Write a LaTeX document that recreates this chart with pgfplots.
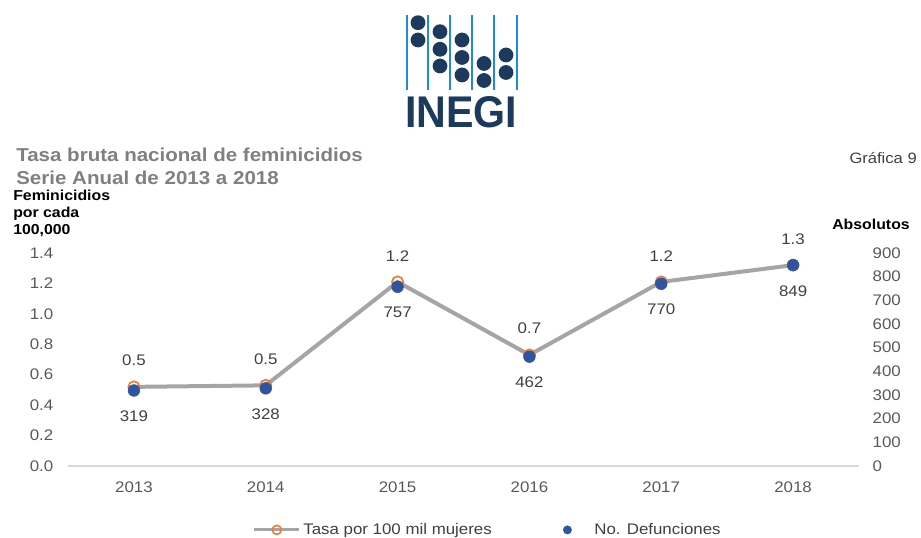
\documentclass[border=0pt]{standalone}
\usepackage{pgfplots}
\pgfplotsset{compat=1.18}
\usepackage{pgfplotstable}
\usepackage{graphicx}
\usepackage{fontspec}
\setmainfont{Liberation Sans}[FakeStretch=1.1]
\newfontfamily\logofont{Liberation Sans}

\definecolor{linegray}{HTML}{A5A5A5}
\definecolor{rateorange}{HTML}{ED7D31}
\definecolor{dotblue}{HTML}{2F55A0}
\definecolor{ticktext}{HTML}{595959}
\definecolor{labeltext}{HTML}{404040}
\definecolor{titlegray}{HTML}{808080}
\definecolor{axisgray}{HTML}{D9D9D9}
\definecolor{logoblue}{HTML}{1E8BD8}
\definecolor{logonavy}{HTML}{1B3A5E}

\pgfplotsset{
  long line legend/.style={
    legend image code/.code={\draw[##1, mark repeat=2, mark phase=2]
      plot coordinates {(0pt,0pt) (16.9pt,0pt) (33.75pt,0pt)};}},
  dot legend/.style={
    legend image code/.code={\path (0pt,-1pt) (26pt,1pt);
      \draw[##1, mark size=3.1pt, mark repeat=2, mark phase=2]
      plot coordinates {(0pt,0pt) (8pt,0pt) (26pt,0pt)};}},
}

% tasa por 100 mil mujeres y numero de defunciones
\pgfplotstableread{
x year rate count
0 2013 0.52 319
1 2014 0.53 328
2 2015 1.21 757
3 2016 0.73 462
4 2017 1.21 770
5 2018 1.32 849
}\datos

\begin{document}
\begin{tikzpicture}[x=0.75pt,y=0.75pt]
\useasboundingbox (0,0) rectangle (921,538);

% logo INEGI
\foreach \lx in {406.7,428.3,450,472.3,494.3,516.7}
  \draw[logoblue, line width=1.4pt] (\lx,523) -- (\lx,448);
\foreach \dx/\dy in {418/22.7, 418/40, 440/31.7, 440/49.3, 440/66,
                     462/40, 462/57.5, 462/75, 484/63.5, 484/80.5, 506/55, 506/72.5}
  \fill[logonavy] (\dx,538-\dy) circle (7.4);
\node[anchor=south west, inner sep=0pt, text=logonavy] at (405,410)
  {\resizebox{84pt}{23.25pt}{\logofont\bfseries INEGI}};

% titulos
\node[anchor=base west, inner sep=0pt, text=titlegray, font=\fontsize{14}{16}\selectfont\bfseries] at (16,376) {Tasa bruta nacional de feminicidios};
\node[anchor=base west, inner sep=0pt, text=titlegray, font=\fontsize{14}{16}\selectfont\bfseries] at (16,353.5) {Serie Anual de 2013 a 2018};
\node[anchor=base east, inner sep=0pt, text=labeltext, font=\fontsize{11.3}{13}\selectfont] at (917,374) {Gráfica 9};
\node[anchor=base west, inner sep=0pt, font=\fontsize{10.8}{12}\selectfont\bfseries] at (13,337.5) {Feminicidios};
\node[anchor=base west, inner sep=0pt, font=\fontsize{10.8}{12}\selectfont\bfseries] at (13,320.5) {por cada};
\node[anchor=base west, inner sep=0pt, font=\fontsize{10.8}{12}\selectfont\bfseries] at (13,303) {100,000};
\node[anchor=base east, inner sep=0pt, font=\fontsize{10.8}{12}\selectfont\bfseries] at (910,308.7) {Absolutos};

\begin{axis}[
  at={(51pt,54pt)}, anchor=south west,
  scale only axis, width=593.25pt, height=159.75pt,
  xmin=-0.5, xmax=5.5, ymin=0, ymax=1.4,
  xtick={0,1,2,3,4,5},
  xticklabels={2013,2014,2015,2016,2017,2018},
  ytick={0,0.2,0.4,0.6,0.8,1.0,1.2,1.4},
  axis x line*=bottom, axis y line*=left,
  x axis line style={draw=axisgray, line width=1.1pt},
  y axis line style={draw=none},
  major tick length=0pt,
  /pgf/number format/assume math mode=true,
  tick label style={font=\fontsize{11.5}{13}\selectfont, text=ticktext},
  xticklabel style={yshift=-8pt},
  yticklabel style={xshift=-7.5pt, /pgf/number format/.cd, fixed, fixed zerofill, precision=1},
  clip=false,
]
\addplot[color=linegray, line width=3pt, mark=o, mark size=4.2pt,
  mark options={draw=rateorange, fill=white, line width=1.3pt},
  nodes near coords,
  every node near coord/.append style={anchor=south, inner sep=0pt, yshift=15pt,
    font=\fontsize{11.5}{13}\selectfont, text=labeltext,
    /pgf/number format/.cd, fixed, fixed zerofill, precision=1, assume math mode=true},
] table[x=x, y=rate] {\datos};
\end{axis}

\begin{axis}[
  at={(51pt,54pt)}, anchor=south west,
  scale only axis, width=593.25pt, height=159.75pt,
  xmin=-0.5, xmax=5.5, ymin=0, ymax=900,
  ytick={0,100,200,300,400,500,600,700,800,900},
  axis x line=none, axis y line*=right,
  y axis line style={draw=none},
  major tick length=0pt,
  /pgf/number format/assume math mode=true,
  tick label style={font=\fontsize{11.5}{13}\selectfont, text=ticktext},
  yticklabel style={xshift=6.7pt},
  clip=false,
  legend columns=2,
  legend style={at={(0.531,-0.3)}, anchor=center, draw=none, fill=none,
    font=\fontsize{11.5}{13}\selectfont, text=labeltext,
    /tikz/every even column/.append style={column sep=46.5pt}},
]
\addlegendimage{long line legend, color=linegray, line width=2.2pt, mark=o, mark size=3.4pt,
  mark options={draw=rateorange, fill=white, line width=1.2pt}}
\addlegendentry{Tasa por 100 mil mujeres}
\addplot[only marks, mark=*, mark size=4.4pt, color=dotblue, dot legend,
  nodes near coords,
  every node near coord/.append style={anchor=north, inner sep=0pt, yshift=-15pt,
    font=\fontsize{11.5}{13}\selectfont, text=labeltext},
] table[x=x, y=count] {\datos};
\addlegendentry{No. Defunciones}
\end{axis}
\end{tikzpicture}
\end{document}
